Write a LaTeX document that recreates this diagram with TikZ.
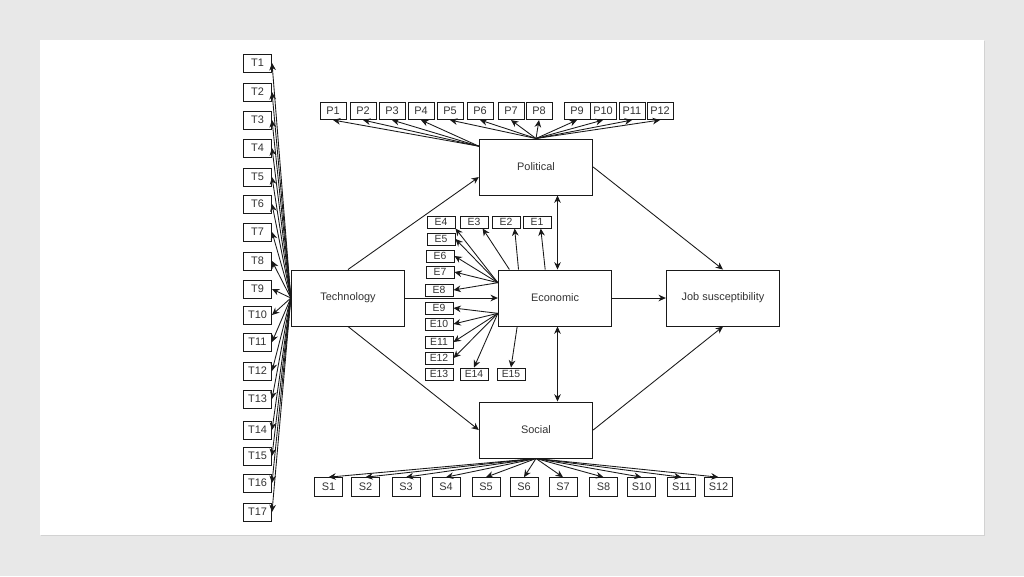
\documentclass[tikz,border=0pt]{standalone}
\usepackage{fontspec}
\setmainfont{Liberation Sans}
\usetikzlibrary{arrows.meta}
\tikzset{>={Stealth[length=5.5pt,width=5pt]}}

\begin{document}
\begin{tikzpicture}[x=0.75pt,y=-0.75pt,line width=0.65pt,draw=black!90,
  big/.style={draw,line width=0.75pt,minimum width=85pt,minimum height=42pt,inner sep=0pt,text=black!80,font=\fontsize{8.2}{9}\selectfont},
  lab/.style={draw,line width=0.75pt,minimum width=21pt,minimum height=13.5pt,inner sep=0pt,text=black!80,font=\fontsize{8.2}{9}\selectfont},
  elab/.style={lab,minimum height=9pt,font=\fontsize{7.8}{8}\selectfont}]
\fill[gray!18] (0,0) rectangle (1024,576);
\fill[gray!35] (41,41) rectangle (985,536);
\fill[white] (40,40) rectangle (984,535);
\node[big] (Tech) at (348,298) {Technology};
\node[big] (Eco) at (555,298) {Economic};
\node[big] (Job) at (723,298) {Job susceptibility};
\node[big] (Pol) at (536,167) {Political};
\node[big] (Soc) at (536,430) {Social};
\foreach \y [count=\i] in {63,92,120,148,177,204,232,261,289,315,342,371,399,430,456,483,512}
  {\node[lab] (T\i) at (257.5,\y) {T\i};
   \draw[->] (Tech.west) -- (T\i.east);}
\foreach \x [count=\i] in {333,363,392,421,450,480,511,539,577,603,632,660}
  \node[lab,minimum width=19.5pt,minimum height=12.8pt] (P\i) at (\x,111) {P\i};
\foreach \i in {1,...,4} \draw[->] (Pol.160) -- (P\i.south);
\foreach \i in {5,...,12} \draw[->] (Pol.north) -- (P\i.south);
\foreach \n/\x/\y in {1/537/222,2/506/222,3/474/222,4/441/222,5/441/239,6/440/256,7/440/272,8/439/290,
  9/439/308,10/439/324,11/439/342,12/439/358,13/439/374,14/474/374,15/511/374}
  \node[elab] (E\n) at (\x,\y) {E\n};
\draw[->] (Eco.109) -- (E1.300);
\draw[->] (Eco.142) -- (E2.323);
\draw[->] (Eco.148) -- (E3.323);
\draw[->] (Eco.165) -- (E4.south east);
\foreach \i in {5,...,8} \draw[->] (Eco.165) -- (E\i.east);
\foreach \i in {9,...,12} \draw[->] (Eco.195) -- (E\i.east);
\draw[->] (Eco.195) -- (E14.north);
\draw[->] (Eco.217) -- (E15.north);
\foreach \n/\x in {1/328.5,2/365.5,3/406,4/446,5/486,6/524,7/563,8/603.5,10/641.5,11/681.5,12/718.5}
  {\node[lab,minimum height=14pt] (S\n) at (\x,487) {S\n};
   \draw[->] (Soc.south) -- (S\n.north);}
\draw[->] (Tech) -- (Eco);
\draw[->] (Tech.north) -- (Pol.190);
\draw[->] (Tech.south) -- (Soc.west);
\draw[<->] (Eco.85) -- (Eco.85 |- Pol.south);
\draw[<->] (Eco.275) -- (Eco.275 |- Soc.north);
\draw[->] (Eco) -- (Job);
\draw[->] (Pol.east) -- (Job.north);
\draw[->] (Soc.east) -- (Job.south);
\end{tikzpicture}
\end{document}
